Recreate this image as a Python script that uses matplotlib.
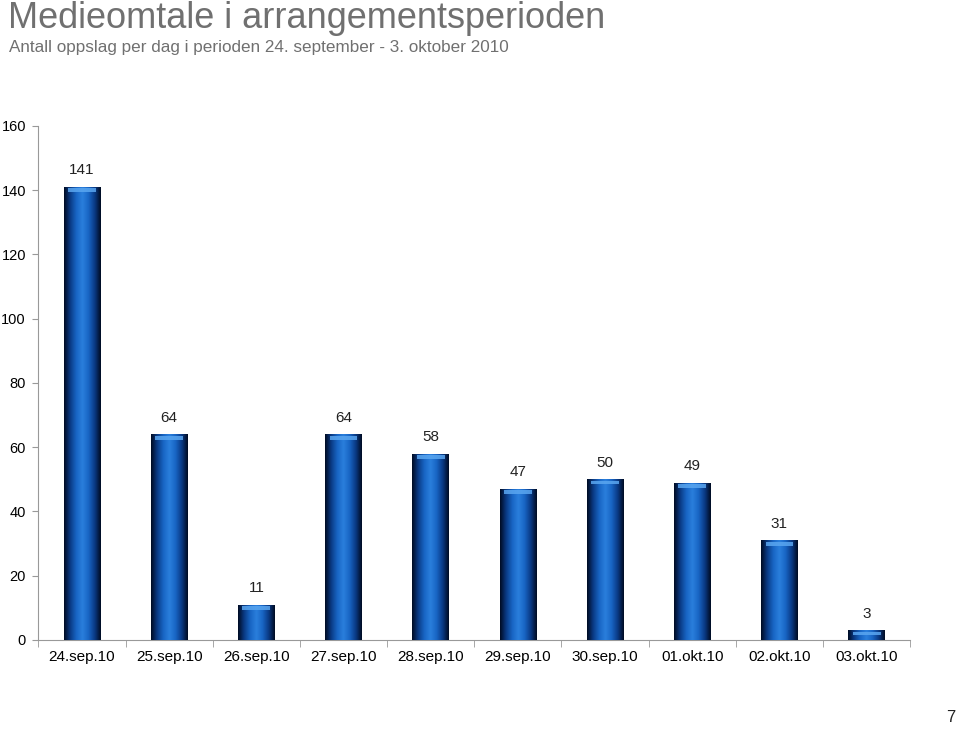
import numpy as np
import matplotlib
matplotlib.use("Agg")
from matplotlib import pyplot as plt
from matplotlib.colors import LinearSegmentedColormap

plt.rcParams["font.family"] = ["Liberation Sans", "DejaVu Sans"]

dates = ["24.sep.10", "25.sep.10", "26.sep.10", "27.sep.10", "28.sep.10",
         "29.sep.10", "30.sep.10", "01.okt.10", "02.okt.10", "03.okt.10"]
counts = [141, 64, 11, 64, 58, 47, 50, 49, 31, 3]

fig = plt.figure(figsize=(9.59, 7.29), dpi=100)
ax = fig.add_axes([0.0401, 0.1221, 0.909, 0.7051])

x = np.arange(len(dates))
bars = ax.bar(x, counts, width=0.42, color="#0a4fa0", zorder=2)

# horizontal "cylinder" shading inside each bar
cmap = LinearSegmentedColormap.from_list(
    "cyl", ["#000a20", "#0a3a84", "#1865c4", "#2a7fdc", "#1865c4", "#0a3a84", "#000a20"])
grad = np.linspace(0, 1, 256).reshape(1, -1)
for b in bars:
    x0, y0 = b.get_x(), b.get_y()
    w, h = b.get_width(), b.get_height()
    im = ax.imshow(grad, cmap=cmap, aspect="auto", extent=[x0, x0 + w, y0, y0 + h],
                   zorder=3, interpolation="bicubic")
    im.set_clip_path(b)
    # light cap on top
    cap = min(1.6, h * 0.5)
    ax.fill_between([x0 + w * 0.12, x0 + w * 0.88], y0 + h - cap, y0 + h - cap * 0.25,
                    color="#5aa6f0", alpha=0.85, lw=0, zorder=4)
    ax.text(b.get_x() + w / 2, h + 3, str(int(h)), ha="center", va="bottom",
            fontsize=11, color="#222222")

ax.set_xlim(-0.5, len(dates) - 0.5)
ax.set_ylim(0, 160)
ax.set_yticks(range(0, 161, 20))
ax.set_xticks(x)
ax.set_xticklabels(dates, fontsize=11)
ax.set_xticks(np.arange(-0.5, len(dates), 1), minor=True)
ax.tick_params(axis="x", which="major", length=0, pad=7)
ax.tick_params(axis="x", which="minor", length=5, color="#999999", direction="out")
ax.tick_params(axis="y", length=4, color="#999999", labelsize=10.5, pad=5)
for s in ["top", "right"]:
    ax.spines[s].set_visible(False)
for s in ["left", "bottom"]:
    ax.spines[s].set_color("#999999")

fig.text(0.008, 0.998, "Medieomtale i arrangementsperioden", fontsize=26,
         color="#707070", va="top", ha="left")
fig.text(0.009, 0.945, "Antall oppslag per dag i perioden 24. september - 3. oktober 2010",
         fontsize=12.3, color="#707070", va="top", ha="left")
fig.text(0.996, 0.005, "7", fontsize=12, ha="right", va="bottom", color="#222222")

fig.savefig("out.png", dpi=100)
